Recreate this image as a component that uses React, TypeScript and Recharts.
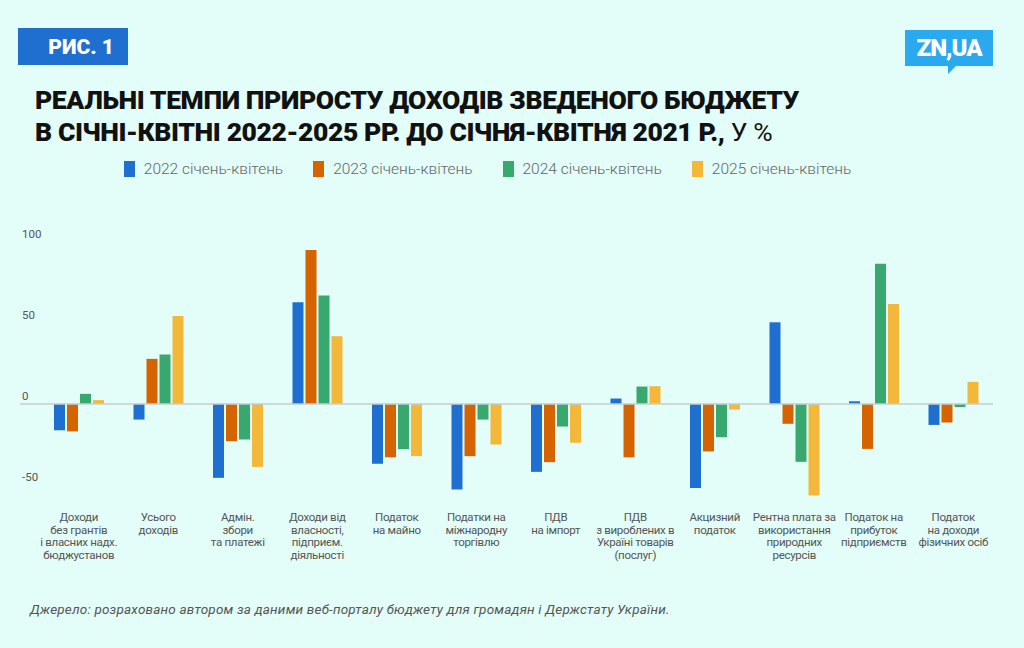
import React from "react"
import { Bar, BarChart, ReferenceLine, XAxis, YAxis } from "recharts"

const categories = [
  "Доходи\nбез грантів\nі власних надх.\nбюджустанов",
  "Усього\nдоходів",
  "Адмін.\nзбори\nта платежі",
  "Доходи від\nвласності,\nпідприєм.\nдіяльності",
  "Податок\nна майно",
  "Податки на\nміжнародну\nторгівлю",
  "ПДВ\nна імпорт",
  "ПДВ\nз вироблених в\nУкраїні товарів\n(послуг)",
  "Акцизний\nподаток",
  "Рентна плата за\nвикористання\nприродних\nресурсів",
  "Податок на\nприбуток\nпідприємств",
  "Податок\nна доходи\nфізичних осіб"
]
const y2022 = [-16.3, -9.7, -45.7, 62.8, -37, -52.9, -42, 3.3, -52, 50.4, 1.6, -13]
const y2023 = [-17, 27.8, -23, 95, -33, -32.3, -36, -33, -29.4, -12.3, -27.8, -11.5]
const y2024 = [6.2, 30.5, -22, 67, -28, -9.7, -14, 10.7, -20.6, -35.8, 86.6, -2]
const y2025 = [2.3, 54.3, -38.9, 41.8, -32.3, -25.1, -24, 10.9, -3.5, -56.6, 61.7, 13.6]
const yTicks = [-50, 0, 50, 100]

const series = [
  { key: "2022 січень-квітень", values: y2022, color: "#1f6fd1" },
  { key: "2023 січень-квітень", values: y2023, color: "#d46300" },
  { key: "2024 січень-квітень", values: y2024, color: "#37a96e" },
  { key: "2025 січень-квітень", values: y2025, color: "#f3b73a" }
]

const data = categories.map((name, i) => {
  const row: Record<string, string | number> = { name }
  series.forEach(s => {
    row[s.key] = s.values[i]
  })
  return row
})

const font = "Roboto, 'Open Sans', sans-serif"

function CategoryTick({ x, y, payload }: any) {
  const lines = String(payload.value).split("\n")
  return (
    <text x={x} y={y + 12} textAnchor="middle" fontSize={11.5} fill="#555" fontFamily={font} letterSpacing={-0.3}>
      {lines.map((l, i) => (
        <tspan key={i} x={x} dy={i === 0 ? 0 : 12.5}>
          {l}
        </tspan>
      ))}
    </text>
  )
}

function ValueTick({ y, payload }: any) {
  return (
    <text x={22} y={y - 4} fontSize={11.5} fill="#555" fontFamily={font}>
      {payload.value}
    </text>
  )
}

export default function App() {
  return (
    <div style={{ position: "absolute", left: 0, top: 0, width: 1024, height: 648, background: "#e3fdf9", fontFamily: font, overflow: "hidden" }}>
      <div style={{ position: "absolute", left: 18, top: 28, width: 110, height: 37, background: "#1f6fd1", color: "#fff", fontWeight: 900, fontSize: 21, display: "flex", alignItems: "center", justifyContent: "flex-end", paddingRight: 14, boxSizing: "border-box" }}>
        РИС. 1
      </div>
      <div style={{ position: "absolute", left: 905, top: 30, width: 88, height: 36, background: "#2aa9ee", color: "#fff", fontWeight: 900, fontSize: 24, display: "flex", alignItems: "center", justifyContent: "center", letterSpacing: -1 }}>
        ZN,UA
      </div>
      <div style={{ position: "absolute", left: 948, top: 66, width: 0, height: 0, borderLeft: "8px solid #2aa9ee", borderBottom: "8px solid transparent" }} />
      <div style={{ position: "absolute", left: 35, top: 84, color: "#111", fontWeight: 900, fontSize: 26.5, lineHeight: "32px", letterSpacing: -0.4 }}>
        РЕАЛЬНІ ТЕМПИ ПРИРОСТУ ДОХОДІВ ЗВЕДЕНОГО БЮДЖЕТУ
        <br />В СІЧНІ-КВІТНІ 2022-2025 РР. ДО СІЧНЯ-КВІТНЯ 2021 Р., <span style={{ fontWeight: 400 }}>У %</span>
      </div>
      <div style={{ position: "absolute", left: 0, top: 160, width: 975, display: "flex", justifyContent: "center", gap: 30, fontSize: 15.5, color: "#666", fontWeight: 300 }}>
        {series.map(s => (
          <div key={s.key} style={{ display: "flex", alignItems: "center", gap: 9 }}>
            <span style={{ width: 11, height: 16, background: s.color, display: "inline-block" }} />
            {s.key}
          </div>
        ))}
      </div>
      <div style={{ position: "absolute", left: 0, top: 0 }}>
        <BarChart
          width={1024}
          height={648}
          data={data}
          margin={{ top: 242, right: 31, left: 0, bottom: 0 }}
          barSize={11}
          barGap={2}
        >
          <XAxis
            dataKey="name"
            axisLine={false}
            tickLine={false}
            interval={0}
            tick={<CategoryTick />}
            padding={{ left: 19, right: 0 }}
            height={147}
          />
          <YAxis
            domain={[-60, 100]}
            ticks={yTicks}
            axisLine={false}
            tickLine={false}
            tick={<ValueTick />}
            width={20}
          />
          <ReferenceLine y={0} stroke="#c5cfcf" strokeWidth={1.5} />
          {series.map(s => (
            <Bar key={s.key} dataKey={s.key} fill={s.color} isAnimationActive={false} />
          ))}
        </BarChart>
      </div>
      <div style={{ position: "absolute", left: 30, top: 601, fontStyle: "italic", fontSize: 13.5, color: "#555", letterSpacing: 0.2 }}>
        Джерело: розраховано автором за даними веб-порталу бюджету для громадян і Держстату України.
      </div>
    </div>
  )
}
